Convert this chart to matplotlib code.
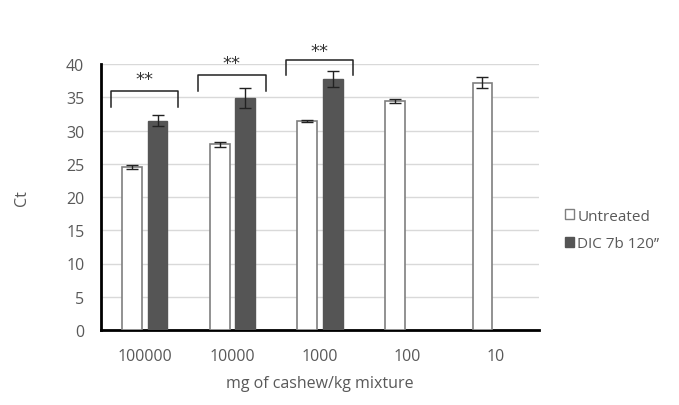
import matplotlib
matplotlib.use("Agg")
import matplotlib.pyplot as plt
import numpy as np

categories = ["100000", "10000", "1000", "100", "10"]
untreated = [24.5, 27.9, 31.4, 34.4, 37.2]
untreated_err = [0.35, 0.4, 0.15, 0.3, 0.8]
dic = [31.5, 34.9, 37.8, np.nan, np.nan]
dic_err = [0.8, 1.5, 1.2, np.nan, np.nan]
series_names = ["Untreated", "DIC 7b 120\u2019\u2019"]
sig_groups = [0, 1, 2]
sig_labels = ["**", "**", "**"]
bracket_tops = [35.9, 38.3, 40.6]
bracket_bottoms = [33.6, 36.0, 38.3]
star_y = [37.8, 40.1, 42.0]

plt.rcParams['font.family'] = ['Open Sans', 'DejaVu Sans']
TXT = '#595959'

fig = plt.figure(figsize=(6.79, 4.06), dpi=100)
ax = fig.add_axes([101/679, 1-331/406, 438/679, 266/406])

x = np.arange(len(categories))
w = 0.228
off = 0.145
ax.bar(x - off, untreated, w, color='white', edgecolor='#7f7f7f', linewidth=1.2, zorder=3,
       label=series_names[0])
ax.errorbar(x - off, untreated, yerr=untreated_err, fmt='none', ecolor='#222222',
            elinewidth=1, capsize=4, capthick=1, zorder=4)
xd = x + off
ax.bar(xd, dic, w, color='#555555', edgecolor='#555555', linewidth=1, zorder=3,
       label=series_names[1])
ax.errorbar(xd, dic, yerr=dic_err, fmt='none', ecolor='#222222',
            elinewidth=1, capsize=4, capthick=1, zorder=4)

for g, lab, top, bot, sy in zip(sig_groups, sig_labels, bracket_tops, bracket_bottoms, star_y):
    x0, x1 = g - 0.39, g + 0.38
    ax.plot([x0, x0, x1, x1], [bot, top, top, bot], color='#222222', lw=1.1,
            clip_on=False, zorder=5)
    ax.text((x0 + x1) / 2, sy, lab, ha='center', va='center', fontsize=13,
            color='#333333', family='DejaVu Sans')

ax.set_xlim(-0.5, len(categories) - 0.5)
ax.set_ylim(0, 40)
ax.set_yticks(np.arange(0, 41, 5))
ax.set_xticks(x)
ax.set_xticklabels(categories)
ax.yaxis.grid(True, color='#d9d9d9', lw=1, zorder=0)
ax.set_axisbelow(True)
for s in ['top', 'right']:
    ax.spines[s].set_visible(False)
for s in ['left', 'bottom']:
    ax.spines[s].set_linewidth(2)
    ax.spines[s].set_color('black')
ax.tick_params(axis='x', length=0, labelsize=11.5, colors=TXT, pad=13)
ax.tick_params(axis='y', length=0, labelsize=11.5, colors=TXT, pad=12)
ax.set_ylabel('Ct', fontsize=11.5, color=TXT, labelpad=26)
ax.set_xlabel('mg of cashew/kg mixture', fontsize=11.5, color=TXT, labelpad=8)

leg = ax.legend(loc='center left', bbox_to_anchor=((565 - 101) / 438, (331 - 231) / 266),
                frameon=False, fontsize=11, labelcolor=TXT,
                handlelength=0.6, handleheight=0.6, handletextpad=0.2,
                labelspacing=0.85, borderaxespad=0, borderpad=0)
for p in leg.get_patches():
    p.set_linewidth(1)

fig.savefig('out.png', dpi=100, facecolor='white')
